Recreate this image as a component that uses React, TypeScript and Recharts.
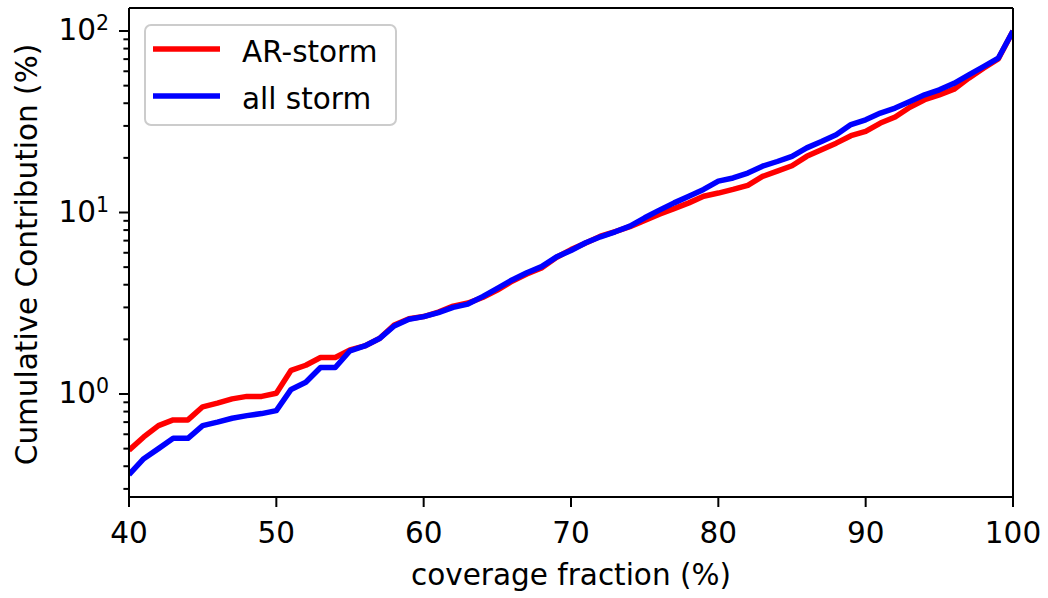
// Cumulative contribution vs. coverage fraction, log-scaled y axis.
import React from 'react';
import { LineChart, Line, XAxis, YAxis, Legend, ReferenceLine } from 'recharts';

const FONT = '"DejaVu Sans", sans-serif';
const FS = 29.5;

// coverage fraction (%)
const coverage = [
  40, 41, 42, 43, 44, 45, 46, 47, 48, 49,
  50, 51, 52, 53, 54, 55, 56, 57, 58, 59,
  60, 61, 62, 63, 64, 65, 66, 67, 68, 69,
  70, 71, 72, 73, 74, 75, 76, 77, 78, 79,
  80, 81, 82, 83, 84, 85, 86, 87, 88, 89,
  90, 91, 92, 93, 94, 95, 96, 97, 98, 99,
  100,
];

// cumulative contribution (%), AR-storm
const arStorm = [
  0.49, 0.58, 0.67, 0.72, 0.72, 0.85, 0.89, 0.94, 0.97, 0.97,
  1.01, 1.35, 1.44, 1.59, 1.59, 1.75, 1.84, 2.02, 2.4, 2.6,
  2.67, 2.83, 3.05, 3.17, 3.4, 3.74, 4.18, 4.58, 4.95, 5.65,
  6.25, 6.8, 7.4, 7.85, 8.35, 9.05, 9.8, 10.5, 11.3, 12.3,
  12.8, 13.4, 14.1, 15.8, 16.9, 18.1, 20.4, 22.2, 24.1, 26.5,
  28.0, 31.1, 33.6, 38.0, 41.8, 44.5, 47.8, 55.0, 62.4, 70.2,
  100,
];

// cumulative contribution (%), all storm
const allStorm = [
  0.36, 0.44, 0.5, 0.57, 0.57, 0.67, 0.7, 0.735, 0.76, 0.78,
  0.81, 1.06, 1.16, 1.4, 1.4, 1.73, 1.84, 2.02, 2.37, 2.58,
  2.67, 2.81, 3.0, 3.13, 3.44, 3.82, 4.25, 4.66, 5.03, 5.68,
  6.18, 6.81, 7.35, 7.83, 8.41, 9.35, 10.3, 11.3, 12.3, 13.4,
  14.9, 15.5, 16.5, 18.0, 19.1, 20.4, 22.7, 24.6, 26.8, 30.5,
  32.4, 35.3, 37.6, 40.9, 44.5, 47.4, 51.5, 57.3, 63.7, 70.8,
  100,
];

const xTicks = [40, 50, 60, 70, 80, 90, 100];
const majorY = [1, 10, 100];
const yTicks = [
  0.3, 0.4, 0.5, 0.6, 0.7, 0.8, 0.9,
  1, 2, 3, 4, 5, 6, 7, 8, 9,
  10, 20, 30, 40, 50, 60, 70, 80, 90,
  100,
];
const yDomain = [0.2707, 133.9];

const data = coverage.map((c, i) => ({ coverage: c, ar: arStorm[i], all: allStorm[i] }));

const XTick = (props: any) => {
  const { x, y, payload } = props;
  return (
    <text x={x} y={y + 36} textAnchor="middle" fontSize={FS} fontFamily={FONT} fill="#000">
      {payload.value}
    </text>
  );
};

// log axis: labelled majors (10^n) plus short unlabelled minors
const YTick = (props: any) => {
  const { x, y, payload } = props;
  const isMajor = majorY.includes(payload.value);
  const len = isMajor ? 10 : 5.6;
  const exp = Math.round(Math.log10(payload.value));
  return (
    <g>
      <line x1={x} x2={x - len} y1={y} y2={y} stroke="#000" strokeWidth={2} />
      {isMajor && (
        <text x={x - 20} y={y + 9} textAnchor="end" fontSize={FS} fontFamily={FONT} fill="#000">
          10
          <tspan dy={-10} fontSize={20.5}>{exp}</tspan>
        </text>
      )}
    </g>
  );
};

const LegendBox = (props: any) => {
  const items = props.payload || [];
  return (
    <svg width={254} height={103} style={{ display: 'block' }}>
      <rect x={1} y={1} width={251} height={100} rx={6} fill="#fff" fillOpacity={0.8} stroke="#cccccc" strokeWidth={2} />
      {items.map((it: any, i: number) => (
        <g key={it.value}>
          <line x1={9} x2={76} y1={25 + i * 47} y2={25 + i * 47} stroke={it.color} strokeWidth={5.5} />
          <text x={98} y={38 + i * 47} fontSize={FS} fontFamily={FONT} fill="#000">
            {it.value}
          </text>
        </g>
      ))}
    </svg>
  );
};

export default function App() {
  return (
    <div style={{ position: 'absolute', left: 0, top: 0, background: '#fff' }}>
      <LineChart width={1048} height={598} data={data} margin={{ top: 8, right: 35, bottom: 0, left: 0 }}>
        <XAxis
          dataKey="coverage"
          type="number"
          domain={[40, 100]}
          ticks={xTicks}
          interval={0}
          height={101}
          tickSize={10}
          tickMargin={0}
          tick={<XTick />}
          axisLine={{ stroke: '#000', strokeWidth: 2 }}
          tickLine={{ stroke: '#000', strokeWidth: 2 }}
          allowDataOverflow
          label={({ viewBox }: any) => (
            <text
              x={viewBox.x + viewBox.width / 2}
              y={viewBox.y + 88}
              textAnchor="middle"
              fontSize={FS}
              fontFamily={FONT}
              fill="#000"
            >
              coverage fraction (%)
            </text>
          )}
        />
        <YAxis
          scale="log"
          type="number"
          domain={yDomain}
          allowDataOverflow
          ticks={yTicks}
          interval={0}
          width={129}
          tickSize={0}
          tickMargin={0}
          tickLine={false}
          tick={<YTick />}
          axisLine={{ stroke: '#000', strokeWidth: 2 }}
          label={({ viewBox }: any) => {
            const cy = viewBox.y + viewBox.height / 2 + 2;
            return (
              <text
                x={37}
                y={cy}
                transform={`rotate(-90 37 ${cy})`}
                textAnchor="middle"
                fontSize={FS}
                fontFamily={FONT}
                fill="#000"
              >
                Cumulative Contribution (%)
              </text>
            );
          }}
        />
        <Legend
          layout="vertical"
          align="center"
          verticalAlign="middle"
          content={<LegendBox />}
          wrapperStyle={{ position: 'absolute', left: 144, top: 24, width: 254, height: 103 }}
        />
        <Line
          dataKey="ar"
          name="AR-storm"
          stroke="#ff0000"
          strokeWidth={5.5}
          strokeLinejoin="round"
          dot={false}
          activeDot={false}
          isAnimationActive={false}
        />
        <Line
          dataKey="all"
          name="all storm"
          stroke="#0000ff"
          strokeWidth={5.5}
          strokeLinejoin="round"
          dot={false}
          activeDot={false}
          isAnimationActive={false}
        />
        {/* top and right spines */}
        <ReferenceLine y={yDomain[1]} stroke="#000" strokeWidth={2} />
        <ReferenceLine x={100} stroke="#000" strokeWidth={2} />
      </LineChart>
    </div>
  );
}
